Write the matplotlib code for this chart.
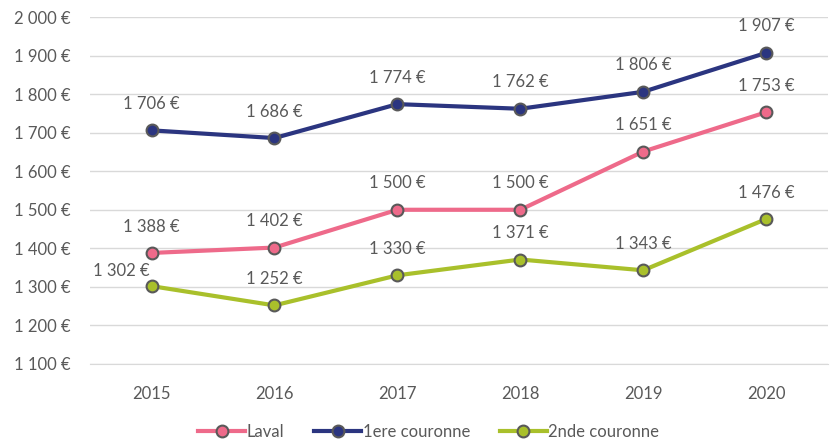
import matplotlib
matplotlib.use("Agg")
import matplotlib.pyplot as plt
from matplotlib.ticker import FuncFormatter

years = ["2015", "2016", "2017", "2018", "2019", "2020"]
laval = [1388, 1402, 1500, 1500, 1651, 1753]
couronne1 = [1706, 1686, 1774, 1762, 1806, 1907]
couronne2 = [1302, 1252, 1330, 1371, 1343, 1476]
series_names = ["Laval", "1ere couronne", "2nde couronne"]
colors = ["#EE6A8A", "#2B3580", "#A9C02B"]

plt.rcParams['font.family'] = ['Lato', 'DejaVu Sans']
txt = "#595959"

def fmt(v):
    s = f"{int(v):,}".replace(",", " ")
    return f"{s} €"

fig = plt.figure(figsize=(8.36, 4.44), dpi=100)
ax = fig.add_axes([0.1077, 0.1802, 0.8823, 0.7815])
x = list(range(len(years)))
for vals, name, c in zip([laval, couronne1, couronne2], series_names, colors):
    ax.plot(x, vals, color=c, lw=3, marker='o', ms=8.5, mfc=c, mec="#595959",
            mew=1.5, label=name, zorder=3)

# labels (offsets in points)
offsets = {
    0: [(0, 19)] * 6,
    1: [(0, 19)] * 6,
    2: [(-21.5, 11), (0, 19), (0, 19), (0, 19), (0, 19), (0, 19)],
}
for si, vals in enumerate([laval, couronne1, couronne2]):
    for i, v in enumerate(vals):
        dx, dy = offsets[si][i]
        ax.annotate(fmt(v), (i, v), xytext=(dx, dy), textcoords="offset points",
                    ha="center", va="center", fontsize=12, color=txt)

ax.set_xlim(-0.5, 5.5)
ax.set_ylim(1100, 2000)
ax.set_yticks(range(1100, 2001, 100))
ax.yaxis.set_major_formatter(FuncFormatter(lambda v, p: fmt(v)))
ax.set_xticks(x)
ax.set_xticklabels(years)
ax.tick_params(axis='both', length=0, labelsize=12, colors=txt)
ax.tick_params(axis='x', pad=16)
ax.tick_params(axis='y', pad=14)
ax.grid(axis='y', color="#D9D9D9", lw=1)
ax.set_axisbelow(True)
for s in ["top", "right", "left"]:
    ax.spines[s].set_visible(False)
ax.spines["bottom"].set_color("#D9D9D9")

leg = fig.legend(loc="lower center", bbox_to_anchor=(0.513, -0.025), ncol=3, frameon=False,
                 fontsize=12, handlelength=2.8, columnspacing=1.8, handletextpad=0.1)
for t in leg.get_texts():
    t.set_color(txt)

fig.savefig("out.png", dpi=100)
